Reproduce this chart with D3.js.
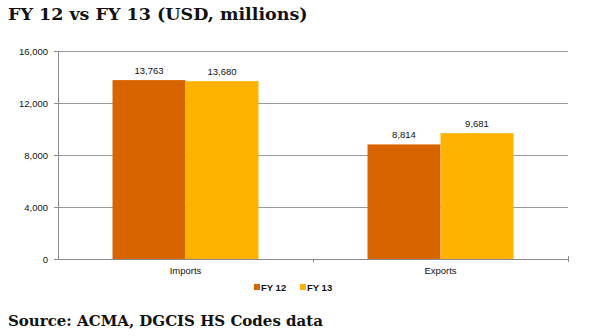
<!DOCTYPE html>
<html><head><meta charset="utf-8">
<script src="https://cdn.jsdelivr.net/npm/d3@7"></script>
<style>body{margin:0;background:#fff}svg{display:block}</style>
</head><body>
<script>
const categories = ["Imports", "Exports"];
const seriesNames = ["FY 12", "FY 13"];
const fy12 = [13763, 8814];
const fy13 = [13680, 9681];
const yTicks = [0, 4000, 8000, 12000, 16000];
const colors = ["#D86400", "#FFB300"];
const title = "FY 12 vs FY 13 (USD, millions)";
const source = "Source: ACMA, DGCIS HS Codes data";

const W = 596, H = 336;
const m = {left: 58, right: 28, top: 51, bottom: 77};
const svg = d3.select("body").append("svg").attr("width", W).attr("height", H);

svg.append("text").attr("x", 8).attr("y", 20)
  .attr("font-family", "DejaVu Serif").attr("font-weight", "bold").attr("font-size", 17.5)
  .attr("fill", "#111").text(title);
svg.append("text").attr("x", 8).attr("y", 326)
  .attr("font-family", "DejaVu Serif").attr("font-weight", "bold").attr("font-size", 15)
  .attr("fill", "#111").text(source);

const x = d3.scaleBand().domain(categories).range([m.left, W - m.right]);
const x1 = d3.scaleBand().domain(seriesNames).range([0, x.bandwidth()]).paddingOuter(0.747).paddingInner(0);
const y = d3.scaleLinear().domain([0, 16000]).range([H - m.bottom, m.top]);

// gridlines
svg.append("g").selectAll("line").data(yTicks.filter(d => d > 0)).join("line")
  .attr("x1", m.left).attr("x2", W - m.right)
  .attr("y1", d => y(d)).attr("y2", d => y(d))
  .attr("stroke", "#9a9a9a").attr("stroke-width", 1).attr("shape-rendering", "crispEdges");

// y axis
const ya = svg.append("g").attr("transform", `translate(${m.left},0)`)
  .call(d3.axisLeft(y).tickValues(yTicks).tickFormat(d3.format(",")).tickSize(4).tickPadding(6));
ya.select(".domain").attr("stroke", "#8a8a8a").attr("shape-rendering", "crispEdges");
ya.selectAll(".tick line").attr("stroke", "#8a8a8a").attr("shape-rendering", "crispEdges");
ya.selectAll("text").attr("font-family", "Liberation Sans, Arial").attr("font-size", 9.5).attr("fill", "#111");

// bars
const data = categories.map((c, i) => ({c, vals: [fy12[i], fy13[i]]}));
const groups = svg.append("g").selectAll("g").data(data).join("g")
  .attr("transform", d => `translate(${x(d.c)},0)`);
groups.selectAll("rect").data(d => d.vals.map((v, j) => ({v, s: seriesNames[j], j}))).join("rect")
  .attr("x", d => x1(d.s)).attr("width", x1.bandwidth())
  .attr("y", d => y(d.v)).attr("height", d => y(0) - y(d.v))
  .attr("fill", d => colors[d.j]);
groups.selectAll("text").data(d => d.vals.map((v, j) => ({v, s: seriesNames[j]}))).join("text")
  .attr("x", d => x1(d.s) + x1.bandwidth() / 2).attr("y", d => y(d.v) - 6)
  .attr("text-anchor", "middle").attr("font-family", "Liberation Sans, Arial").attr("font-size", 9.5)
  .attr("fill", "#111").text(d => d3.format(",")(d.v));

// x axis
const xa = svg.append("g").attr("transform", `translate(0,${y(0)})`)
  .call(d3.axisBottom(x).tickSize(0).tickPadding(8));
xa.select(".domain").attr("stroke", "#8a8a8a").attr("shape-rendering", "crispEdges");
xa.selectAll("text").attr("font-family", "Liberation Sans, Arial").attr("font-size", 9.5).attr("fill", "#111");
// category separator ticks
svg.append("g").selectAll("line").data([categories[1]]).join("line")
  .attr("x1", d => x(d)).attr("x2", d => x(d))
  .attr("y1", y(0)).attr("y2", y(0) + 3).attr("stroke", "#8a8a8a").attr("shape-rendering", "crispEdges");
svg.append("line").attr("x1", W - m.right).attr("x2", W - m.right)
  .attr("y1", y(0) - 3).attr("y2", y(0) + 3).attr("stroke", "#8a8a8a").attr("shape-rendering", "crispEdges");

// legend
const lg = svg.append("g").attr("transform", "translate(254,288)");
const lgItems = lg.selectAll("g").data(seriesNames).join("g")
  .attr("transform", (d, i) => `translate(${i * 46},0)`);
lgItems.append("rect").attr("x", 0).attr("y", -4).attr("width", 6).attr("height", 6)
  .attr("fill", (d, i) => colors[i]);
lgItems.append("text").attr("x", 7).attr("y", 2.5).attr("font-family", "Liberation Sans, Arial")
  .attr("font-size", 9.5).attr("font-weight", "bold").attr("fill", "#111").text(d => d);
</script>
</body></html>
